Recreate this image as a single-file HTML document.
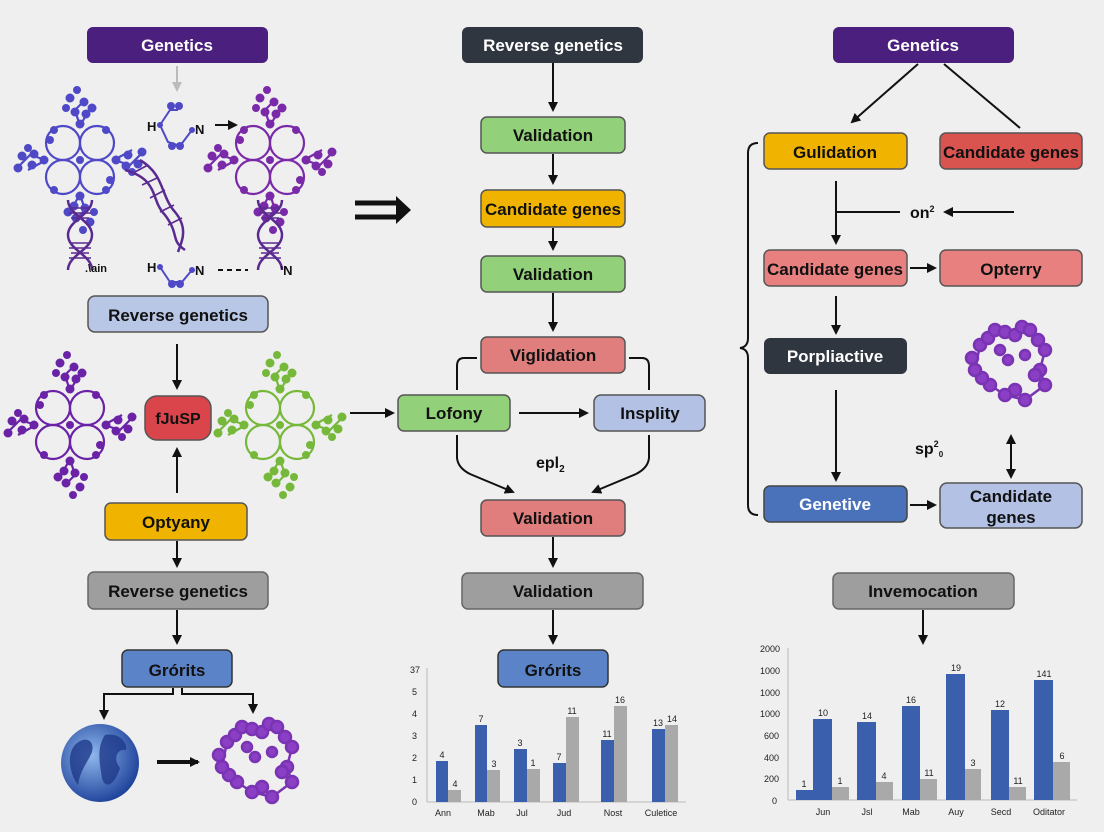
<!DOCTYPE html>
<html><head><meta charset="utf-8"><style>
html,body{margin:0;padding:0;background:#efefef}
svg{display:block}
text{font-family:"Liberation Sans",sans-serif;font-weight:bold}
.c text{font-weight:normal}
</style></head><body>
<svg width="1104" height="832" viewBox="0 0 1104 832" xmlns="http://www.w3.org/2000/svg">
<defs>
<marker id="a" markerWidth="10" markerHeight="10" refX="8" refY="5" orient="auto" markerUnits="userSpaceOnUse"><path d="M0,0L10,5L0,10z" fill="#111"/></marker>
<marker id="g" markerWidth="10" markerHeight="10" refX="8" refY="5" orient="auto" markerUnits="userSpaceOnUse"><path d="M0,0L10,5L0,10z" fill="#bbb"/></marker>
<marker id="as" markerWidth="10" markerHeight="10" refX="2" refY="5" orient="auto" markerUnits="userSpaceOnUse"><path d="M10,0L0,5L10,10z" fill="#111"/></marker>
<g id="mol">
<g fill="none" stroke="currentColor" stroke-width="2.2">
<circle cx="-17" cy="-17" r="17"/><circle cx="17" cy="-17" r="17"/><circle cx="-17" cy="17" r="17"/><circle cx="17" cy="17" r="17"/>
<path d="M0,-34L-5,-50L5,-60M0,-34L10,-52M0,34L5,50L-5,60M0,34L-10,52M-34,0L-50,-5L-60,5M-34,0L-52,10M34,0L50,5L60,-5M34,0L52,-10"/>
</g>
<g fill="currentColor">
<circle cx="0" cy="-36" r="4.5"/><circle cx="-5" cy="-48" r="4.5"/><circle cx="6" cy="-46" r="4.5"/><circle cx="4" cy="-58" r="4.5"/><circle cx="-10" cy="-62" r="4.5"/><circle cx="-3" cy="-70" r="4"/><circle cx="12" cy="-52" r="4.5"/><circle cx="-14" cy="-52" r="4"/>
<circle cx="0" cy="36" r="4.5"/><circle cx="5" cy="48" r="4.5"/><circle cx="-6" cy="46" r="4.5"/><circle cx="-4" cy="58" r="4.5"/><circle cx="10" cy="62" r="4.5"/><circle cx="3" cy="70" r="4"/><circle cx="-12" cy="52" r="4.5"/><circle cx="14" cy="52" r="4"/>
<circle cx="-36" cy="0" r="4.5"/><circle cx="-48" cy="5" r="4.5"/><circle cx="-46" cy="-6" r="4.5"/><circle cx="-58" cy="-4" r="4.5"/><circle cx="-62" cy="8" r="4.5"/><circle cx="-52" cy="-12" r="4"/>
<circle cx="36" cy="0" r="4.5"/><circle cx="48" cy="-5" r="4.5"/><circle cx="46" cy="6" r="4.5"/><circle cx="58" cy="4" r="4.5"/><circle cx="62" cy="-8" r="4.5"/><circle cx="52" cy="12" r="4"/>
<circle cx="0" cy="0" r="4"/><circle cx="-26" cy="-30" r="4"/><circle cx="26" cy="-30" r="4"/><circle cx="-26" cy="30" r="4"/><circle cx="26" cy="30" r="4"/><circle cx="-30" cy="-20" r="4"/><circle cx="30" cy="20" r="4"/>
</g></g>
<g id="blob" fill="#8a3fc4" stroke="#7a33b3" stroke-width="2.5">
<path d="M-30,-15L-15,-30L5,-25L20,-30L35,-10L30,10L35,25L15,40L-5,35L-20,25L-35,10Z" fill="none"/>
<circle cx="-30" cy="-15" r="6"/><circle cx="-22" cy="-22" r="6"/><circle cx="-15" cy="-30" r="6"/><circle cx="-5" cy="-28" r="6"/><circle cx="5" cy="-25" r="6"/><circle cx="12" cy="-33" r="6"/><circle cx="20" cy="-30" r="6"/><circle cx="28" cy="-20" r="6"/><circle cx="35" cy="-10" r="6"/><circle cx="30" cy="10" r="6"/><circle cx="35" cy="25" r="6"/><circle cx="25" cy="15" r="6"/><circle cx="15" cy="40" r="6"/><circle cx="5" cy="30" r="6"/><circle cx="-5" cy="35" r="6"/><circle cx="-20" cy="25" r="6"/><circle cx="-28" cy="18" r="6"/><circle cx="-35" cy="10" r="6"/><circle cx="-38" cy="-2" r="6"/><circle cx="-10" cy="-10" r="5"/><circle cx="-2" cy="0" r="5"/><circle cx="15" cy="-5" r="5"/>
</g>
<g id="dna" fill="none" stroke="#5a2a90" stroke-width="2.5">
<path d="M-12,0C-12,15 12,20 12,35C12,50 -12,55 -12,70"/>
<path d="M12,0C12,15 -12,20 -12,35C-12,50 12,55 12,70"/>
<path d="M-9,8H9M-11,13H11M-9,18H9M-9,43H9M-11,48H11M-9,53H9M-11,58H11" stroke-width="1.6"/>
</g>
</defs>

<!-- LEFT COLUMN -->
<line x1="177" y1="66" x2="177" y2="90" stroke="#bbb" stroke-width="2" marker-end="url(#g)"/>
<use href="#mol" x="80" y="160" style="color:#4f49c7"/>
<use href="#dna" x="80" y="200"/>
<use href="#mol" x="270" y="160" style="color:#7a2aa8"/>
<use href="#dna" x="270" y="200"/>
<g fill="none" stroke="#5a2a90" stroke-width="2.5"><path d="M125,170C160,180 150,200 165,215C180,235 170,240 185,250"/><path d="M140,160C165,175 160,195 175,212C190,230 180,245 178,252"/></g>
<g stroke="#5a2a90" stroke-width="1.6"><path d="M135,172L148,165M142,185L157,178M150,198L165,190M160,212L174,205M168,225L182,218"/></g>
<g fill="none" stroke="#4f49c7" stroke-width="2"><path d="M160,125L170,110L178,110M160,125L168,142L180,146L192,130"/><path d="M160,267L170,282L182,282L192,270"/></g>
<g fill="#4f49c7"><circle cx="171" cy="106" r="4"/><circle cx="179" cy="106" r="4"/><circle cx="160" cy="125" r="3"/><circle cx="172" cy="146" r="4"/><circle cx="180" cy="146" r="4"/><circle cx="192" cy="130" r="3"/><circle cx="160" cy="267" r="3"/><circle cx="172" cy="284" r="4"/><circle cx="180" cy="284" r="4"/><circle cx="192" cy="270" r="3"/></g>
<text x="147" y="131" font-size="13" fill="#111">H</text><text x="195" y="134" font-size="13" fill="#111">N</text>
<text x="147" y="272" font-size="13" fill="#111">H</text><text x="195" y="275" font-size="13" fill="#111">N</text>
<text x="85" y="272" font-size="11" fill="#111">.\ain</text><text x="280" y="275" font-size="13" fill="#111">'N</text>
<line x1="215" y1="125" x2="236" y2="125" stroke="#111" stroke-width="2" marker-end="url(#a)"/>
<line x1="218" y1="270" x2="248" y2="270" stroke="#111" stroke-width="2" stroke-dasharray="5,4"/>

<rect x="87" y="27" width="181" height="36" rx="6" fill="#4b1f7e"/>
<text x="177" y="51" font-size="17" fill="#fff" text-anchor="middle">Genetics</text>
<rect x="88" y="296" width="180" height="36" rx="7" fill="#b9c7e6" stroke="#555" stroke-width="1.5"/>
<text x="178" y="321" font-size="17" fill="#111" text-anchor="middle">Reverse genetics</text>
<line x1="177" y1="344" x2="177" y2="388" stroke="#111" stroke-width="2" marker-end="url(#a)"/>
<use href="#mol" x="70" y="425" style="color:#6a22a6"/>
<use href="#mol" x="280" y="425" style="color:#76b83a"/>
<rect x="145" y="396" width="66" height="44" rx="12" fill="#d9454a" stroke="#555" stroke-width="1.5"/>
<text x="178" y="424" font-size="16" fill="#111" text-anchor="middle">fJuSP</text>
<line x1="177" y1="493" x2="177" y2="449" stroke="#111" stroke-width="2" marker-end="url(#a)"/>
<line x1="350" y1="413" x2="393" y2="413" stroke="#111" stroke-width="2" marker-end="url(#a)"/>
<rect x="105" y="503" width="142" height="37" rx="6" fill="#f0b400" stroke="#555" stroke-width="1.5"/>
<text x="176" y="528" font-size="17" fill="#111" text-anchor="middle">Optyany</text>
<line x1="177" y1="541" x2="177" y2="566" stroke="#111" stroke-width="2" marker-end="url(#a)"/>
<rect x="88" y="572" width="180" height="37" rx="6" fill="#9e9e9e" stroke="#666" stroke-width="1.5"/>
<text x="178" y="597" font-size="17" fill="#111" text-anchor="middle">Reverse genetics</text>
<line x1="177" y1="610" x2="177" y2="643" stroke="#111" stroke-width="2" marker-end="url(#a)"/>
<rect x="122" y="650" width="110" height="37" rx="6" fill="#5b84c8" stroke="#333" stroke-width="1.5"/>
<text x="177" y="676" font-size="17" fill="#111" text-anchor="middle">Grórits</text>
<path d="M173,688V694H104V718" fill="none" stroke="#111" stroke-width="2" marker-end="url(#a)"/>
<path d="M182,688V694H253V712" fill="none" stroke="#111" stroke-width="2" marker-end="url(#a)"/>
<defs><radialGradient id="gl" cx="40%" cy="40%" r="65%"><stop offset="0" stop-color="#8fb8ec"/><stop offset="1" stop-color="#1c3f99"/></radialGradient></defs>
<circle cx="100" cy="763" r="39" fill="url(#gl)"/>
<path d="M75,745C85,735 95,740 92,752C88,762 80,770 78,785C70,775 66,755 75,745ZM105,735C118,732 128,742 126,750C118,748 112,758 120,768C115,785 105,790 102,778C100,765 96,748 105,735Z" fill="#1e3a8a" opacity=".8"/>
<line x1="157" y1="762" x2="198" y2="762" stroke="#111" stroke-width="4" marker-end="url(#a)"/>
<use href="#blob" x="257" y="757"/>

<!-- double arrow -->
<path d="M355,203H400M355,217H400" stroke="#111" stroke-width="5"/>
<path d="M396,196L411,210L396,224z" fill="#111"/>

<!-- MIDDLE COLUMN -->
<rect x="462" y="27" width="181" height="36" rx="6" fill="#2f3640"/>
<text x="553" y="51" font-size="17" fill="#fff" text-anchor="middle">Reverse genetics</text>
<line x1="553" y1="63" x2="553" y2="110" stroke="#111" stroke-width="2" marker-end="url(#a)"/>
<rect x="481" y="117" width="144" height="36" rx="6" fill="#92d07a" stroke="#555" stroke-width="1.5"/>
<text x="553" y="141" font-size="17" fill="#111" text-anchor="middle">Validation</text>
<line x1="553" y1="154" x2="553" y2="183" stroke="#111" stroke-width="2" marker-end="url(#a)"/>
<rect x="481" y="190" width="144" height="37" rx="6" fill="#f0b400" stroke="#555" stroke-width="1.5"/>
<text x="553" y="215" font-size="17" fill="#111" text-anchor="middle">Candidate genes</text>
<line x1="553" y1="228" x2="553" y2="249" stroke="#111" stroke-width="2" marker-end="url(#a)"/>
<rect x="481" y="256" width="144" height="36" rx="6" fill="#92d07a" stroke="#555" stroke-width="1.5"/>
<text x="553" y="280" font-size="17" fill="#111" text-anchor="middle">Validation</text>
<line x1="553" y1="293" x2="553" y2="330" stroke="#111" stroke-width="2" marker-end="url(#a)"/>
<rect x="481" y="337" width="144" height="36" rx="6" fill="#e07d7d" stroke="#555" stroke-width="1.5"/>
<text x="553" y="361" font-size="17" fill="#111" text-anchor="middle">Viglidation</text>
<path d="M477,358H464Q457,358 457,366V390M629,358H642Q649,358 649,366V390" fill="none" stroke="#111" stroke-width="2"/>
<rect x="398" y="395" width="112" height="36" rx="6" fill="#92d07a" stroke="#555" stroke-width="1.5"/>
<text x="454" y="419" font-size="17" fill="#111" text-anchor="middle">Lofony</text>
<rect x="594" y="395" width="111" height="36" rx="7" fill="#b3c2e4" stroke="#555" stroke-width="1.5"/>
<text x="650" y="419" font-size="17" fill="#111" text-anchor="middle">Insplity</text>
<line x1="519" y1="413" x2="587" y2="413" stroke="#111" stroke-width="2" marker-end="url(#a)"/>
<path d="M649,435V458Q648,468 636,474L593,492" fill="none" stroke="#111" stroke-width="2" marker-end="url(#a)"/>
<path d="M457,435V458Q458,468 470,474L513,492" fill="none" stroke="#111" stroke-width="2" marker-end="url(#a)"/>
<text x="536" y="468" font-size="16" fill="#111">epl<tspan font-size="10" dy="4">2</tspan></text>
<rect x="481" y="500" width="144" height="36" rx="6" fill="#e07d7d" stroke="#555" stroke-width="1.5"/>
<text x="553" y="524" font-size="17" fill="#111" text-anchor="middle">Validation</text>
<line x1="553" y1="537" x2="553" y2="566" stroke="#111" stroke-width="2" marker-end="url(#a)"/>
<rect x="462" y="573" width="181" height="36" rx="6" fill="#9e9e9e" stroke="#666" stroke-width="1.5"/>
<text x="553" y="597" font-size="17" fill="#111" text-anchor="middle">Validation</text>
<line x1="553" y1="610" x2="553" y2="643" stroke="#111" stroke-width="2" marker-end="url(#a)"/>
<rect x="498" y="650" width="110" height="37" rx="6" fill="#5b84c8" stroke="#333" stroke-width="1.5"/>
<text x="553" y="676" font-size="17" fill="#111" text-anchor="middle">Grórits</text>

<!-- middle chart -->
<g class="c" font-size="9" fill="#222">
<line x1="427" y1="668" x2="427" y2="802" stroke="#bbb"/><line x1="427" y1="802" x2="686" y2="802" stroke="#bbb"/>
<text x="410" y="673">37</text><text x="412" y="695">5</text><text x="412" y="717">4</text><text x="412" y="739">3</text><text x="412" y="761">2</text><text x="412" y="783">1</text><text x="412" y="805">0</text>
<g fill="#3a5fad"><rect x="436" y="761" width="12" height="41"/><rect x="475" y="725" width="12" height="77"/><rect x="514" y="749" width="13" height="53"/><rect x="553" y="763" width="13" height="39"/><rect x="601" y="740" width="13" height="62"/><rect x="652" y="729" width="13" height="73"/></g>
<g fill="#a9a9a9"><rect x="448" y="790" width="13" height="12"/><rect x="487" y="770" width="13" height="32"/><rect x="527" y="769" width="13" height="33"/><rect x="566" y="717" width="13" height="85"/><rect x="614" y="706" width="13" height="96"/><rect x="665" y="725" width="13" height="77"/></g>
<g text-anchor="middle"><text x="442" y="758">4</text><text x="455" y="787">4</text><text x="481" y="722">7</text><text x="494" y="767">3</text><text x="520" y="746">3</text><text x="533" y="766">1</text><text x="559" y="760">7</text><text x="572" y="714">11</text><text x="607" y="737">11</text><text x="620" y="703">16</text><text x="658" y="726">13</text><text x="672" y="722">14</text>
<text x="443" y="816">Ann</text><text x="486" y="816">Mab</text><text x="522" y="816">Jul</text><text x="564" y="816">Jud</text><text x="613" y="816">Nost</text><text x="661" y="816">Culetice</text></g>
</g>

<!-- RIGHT COLUMN -->
<rect x="833" y="27" width="181" height="36" rx="6" fill="#4b1f7e"/>
<text x="923" y="51" font-size="17" fill="#fff" text-anchor="middle">Genetics</text>
<line x1="918" y1="64" x2="852" y2="122" stroke="#111" stroke-width="2" marker-end="url(#a)"/>
<line x1="944" y1="64" x2="1020" y2="128" stroke="#111" stroke-width="2"/>
<path d="M758,143Q748,143 748,153V338Q748,347 740,348Q748,349 748,358V505Q748,515 758,515" fill="none" stroke="#111" stroke-width="2"/>
<rect x="764" y="133" width="143" height="36" rx="6" fill="#f0b400" stroke="#555" stroke-width="1.5"/>
<text x="835" y="158" font-size="17" fill="#111" text-anchor="middle">Gulidation</text>
<rect x="940" y="133" width="142" height="36" rx="6" fill="#d9534f" stroke="#555" stroke-width="1.5"/>
<text x="1011" y="158" font-size="17" fill="#111" text-anchor="middle">Candidate genes</text>
<line x1="836" y1="181" x2="836" y2="243" stroke="#111" stroke-width="2" marker-end="url(#a)"/>
<line x1="836" y1="212" x2="900" y2="212" stroke="#111" stroke-width="2"/>
<text x="910" y="218" font-size="16" fill="#111">on<tspan font-size="9" dy="-6">2</tspan></text>
<line x1="1014" y1="212" x2="945" y2="212" stroke="#111" stroke-width="2" marker-end="url(#a)"/>
<rect x="764" y="250" width="143" height="36" rx="6" fill="#e88080" stroke="#555" stroke-width="1.5"/>
<text x="835" y="275" font-size="17" fill="#111" text-anchor="middle">Candidate genes</text>
<line x1="910" y1="268" x2="935" y2="268" stroke="#111" stroke-width="2" marker-end="url(#a)"/>
<rect x="940" y="250" width="142" height="36" rx="6" fill="#e88080" stroke="#555" stroke-width="1.5"/>
<text x="1011" y="275" font-size="17" fill="#111" text-anchor="middle">Opterry</text>
<line x1="836" y1="296" x2="836" y2="333" stroke="#111" stroke-width="2" marker-end="url(#a)"/>
<rect x="764" y="338" width="143" height="36" rx="6" fill="#2f3640"/>
<text x="835" y="362" font-size="17" fill="#fff" text-anchor="middle">Porpliactive</text>
<use href="#blob" x="1010" y="360"/>
<line x1="836" y1="390" x2="836" y2="480" stroke="#111" stroke-width="2" marker-end="url(#a)"/>
<text x="915" y="454" font-size="16" fill="#111">sp<tspan font-size="9" dy="-7">2</tspan><tspan font-size="8" dy="10">0</tspan></text>
<line x1="1011" y1="436" x2="1011" y2="477" stroke="#111" stroke-width="2" marker-start="url(#as)" marker-end="url(#a)"/>
<rect x="764" y="486" width="143" height="36" rx="6" fill="#4a72bb" stroke="#444" stroke-width="1.5"/>
<text x="835" y="510" font-size="17" fill="#fff" text-anchor="middle">Genetive</text>
<line x1="910" y1="505" x2="935" y2="505" stroke="#111" stroke-width="2" marker-end="url(#a)"/>
<rect x="940" y="483" width="142" height="45" rx="7" fill="#b3c2e4" stroke="#555" stroke-width="1.5"/>
<text x="1011" y="502" font-size="17" fill="#111" text-anchor="middle">Candidate</text>
<text x="1011" y="523" font-size="17" fill="#111" text-anchor="middle">genes</text>
<rect x="833" y="573" width="181" height="36" rx="6" fill="#9e9e9e" stroke="#666" stroke-width="1.5"/>
<text x="923" y="597" font-size="17" fill="#111" text-anchor="middle">Invemocation</text>
<line x1="923" y1="610" x2="923" y2="643" stroke="#111" stroke-width="2" marker-end="url(#a)"/>

<!-- right chart -->
<g class="c" font-size="9" fill="#222">
<line x1="788" y1="648" x2="788" y2="800" stroke="#bbb"/><line x1="788" y1="800" x2="1077" y2="800" stroke="#bbb"/>
<text x="760" y="652">2000</text><text x="760" y="674">1000</text><text x="760" y="696">1000</text><text x="760" y="717">1000</text><text x="764" y="739">600</text><text x="764" y="761">400</text><text x="764" y="782">200</text><text x="772" y="804">0</text>
<g fill="#3a5fad"><rect x="796" y="790" width="17" height="10"/><rect x="813" y="719" width="19" height="81"/><rect x="857" y="722" width="19" height="78"/><rect x="902" y="706" width="18" height="94"/><rect x="946" y="674" width="19" height="126"/><rect x="991" y="710" width="18" height="90"/><rect x="1034" y="680" width="19" height="120"/></g>
<g fill="#a9a9a9"><rect x="832" y="787" width="17" height="13"/><rect x="876" y="782" width="17" height="18"/><rect x="920" y="779" width="17" height="21"/><rect x="965" y="769" width="16" height="31"/><rect x="1009" y="787" width="17" height="13"/><rect x="1053" y="762" width="17" height="38"/></g>
<g text-anchor="middle"><text x="804" y="787">1</text><text x="823" y="716">10</text><text x="840" y="784">1</text><text x="867" y="719">14</text><text x="884" y="779">4</text><text x="911" y="703">16</text><text x="929" y="776">11</text><text x="956" y="671">19</text><text x="973" y="766">3</text><text x="1000" y="707">12</text><text x="1018" y="784">11</text><text x="1044" y="677">141</text><text x="1062" y="759">6</text>
<text x="823" y="815">Jun</text><text x="867" y="815">Jsl</text><text x="911" y="815">Mab</text><text x="956" y="815">Auy</text><text x="1001" y="815">Secd</text><text x="1049" y="815">Oditator</text></g>
</g>
</svg>
</body></html>
